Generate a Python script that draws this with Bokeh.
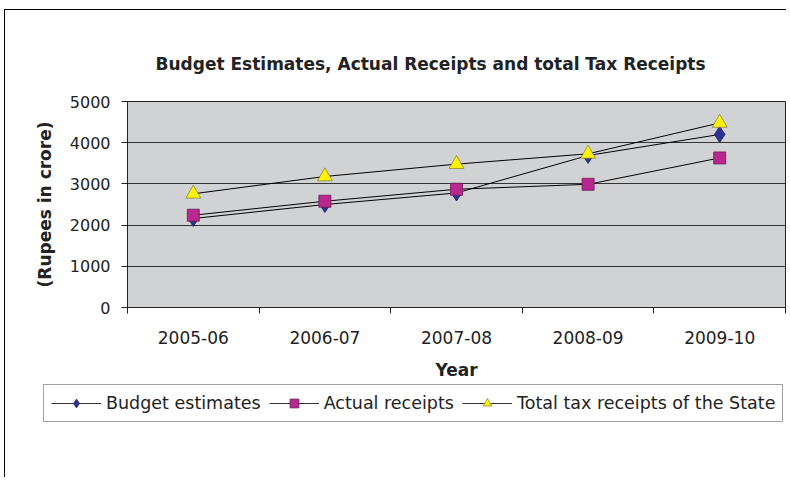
from bokeh.plotting import figure
from bokeh.layouts import column
from bokeh.models import FixedTicker, Legend, LegendItem, Range1d
from bokeh.embed import file_html
from bokeh.resources import INLINE

years = ["2005-06", "2006-07", "2007-08", "2008-09", "2009-10"]
budget_estimates = [2160, 2500, 2780, 3690, 4200]
actual_receipts = [2240, 2580, 2870, 2990, 3630]
total_tax_receipts = [2760, 3180, 3480, 3730, 4480]
y_ticks = [0, 1000, 2000, 3000, 4000, 5000]
series_names = ["Budget estimates", "Actual receipts", "Total tax receipts of the State"]

FONT = "DejaVu Sans"
xs = [i + 0.5 for i in range(len(years))]

STYLES = [
    dict(marker="diamond", size=16, fill_color="#2E3192", line_color="#1C1F6A", line_width=0.8),
    dict(marker="square", size=12, fill_color="#B8288E", line_color="#6E1A55", line_width=0.8),
    dict(marker="triangle", size=15, fill_color="#FFF200", line_color="#6B6A20", line_width=0.6),
]
SERIES = [budget_estimates, actual_receipts, total_tax_receipts]

p = figure(width=781, height=372, output_backend="svg", toolbar_location=None,
           x_range=Range1d(0, len(years)), y_range=Range1d(0, 5000),
           min_border_left=122, min_border_right=1, min_border_top=91,
           min_border_bottom=75)
p.frame_align = False

p.title.text = "Budget Estimates, Actual Receipts and total Tax Receipts"
p.title.text_font = FONT
p.title.text_font_size = "17px"
p.title.text_font_style = "bold"
p.title.text_color = "#222222"
p.title.align = "left"
p.title.offset = 28
p.title.standoff = 56

p.border_fill_alpha = 0
p.background_fill_color = "#D1D2D4"
p.outline_line_color = "#222222"
p.outline_line_width = 1

p.xgrid.visible = False
p.ygrid.grid_line_color = "#333333"
p.ygrid.grid_line_width = 1
p.ygrid.ticker = FixedTicker(ticks=y_ticks)

xa = p.xaxis[0]
xa.ticker = FixedTicker(ticks=xs, minor_ticks=list(range(len(years) + 1)))
xa.major_label_overrides = {x: y for x, y in zip(xs, years)}
xa.major_tick_out = 0
xa.major_tick_in = 0
xa.minor_tick_out = 6
xa.minor_tick_in = 0
xa.minor_tick_line_color = "#222222"
xa.axis_line_color = "#222222"
xa.major_label_text_font = FONT
xa.major_label_text_font_size = "17px"
xa.major_label_text_color = "#222222"
xa.major_label_standoff = 17
xa.axis_label = "Year"
xa.axis_label_text_font = FONT
xa.axis_label_text_font_size = "17px"
xa.axis_label_text_font_style = "bold"
xa.axis_label_text_color = "#222222"
xa.axis_label_standoff = 13

ya = p.yaxis[0]
ya.ticker = FixedTicker(ticks=y_ticks)
ya.minor_tick_line_color = None
ya.major_tick_out = 6
ya.major_tick_in = 0
ya.major_tick_line_color = "#222222"
ya.axis_line_color = "#222222"
ya.major_label_text_font = FONT
ya.major_label_text_font_size = "16px"
ya.major_label_text_color = "#222222"
ya.major_label_standoff = 11
ya.axis_label = "(Rupees in crore)"
ya.axis_label_text_font = FONT
ya.axis_label_text_font_size = "17px"
ya.axis_label_text_font_style = "bold"
ya.axis_label_text_color = "#222222"
ya.axis_label_standoff = 12

for ys, st in zip(SERIES, STYLES):
    p.line(xs, ys, line_color="black", line_width=1)
    p.scatter(xs, ys, **st)

# Legend figure below the chart: same series drawn out of view, only its legend shows
p2 = figure(width=781, height=95, output_backend="svg", toolbar_location=None,
            x_range=Range1d(0, len(years)), y_range=Range1d(-2, -1),
            x_axis_type=None, y_axis_type=None,
            min_border_left=0, min_border_right=0, min_border_top=0, min_border_bottom=0)
p2.frame_align = False
p2.grid.visible = False
p2.outline_line_color = None
p2.border_fill_alpha = 0
p2.background_fill_alpha = 0

items = []
for name, ys, st in zip(series_names, SERIES, STYLES):
    lr = p2.line(xs, ys, line_color="#333333", line_width=1.2)
    mr = p2.scatter(xs, ys, **st)
    items.append(LegendItem(label=name, renderers=[lr, mr]))

legend = Legend(items=items, orientation="horizontal", location=(38, 55))
legend.label_text_font = FONT
legend.label_text_font_size = "17.5px"
legend.label_text_color = "#222222"
legend.glyph_width = 50
legend.glyph_height = 22
legend.label_standoff = 5
legend.spacing = 8
legend.padding = 7
legend.margin = 0
legend.border_line_color = "#444444"
legend.border_line_width = 1
legend.background_fill_color = "white"
legend.background_fill_alpha = 1
p2.add_layout(legend, "center")

layout = column(p, p2, spacing=0,
                styles={"border-left": "1px solid black", "border-top": "1px solid black",
                        "margin-left": "4px", "margin-top": "9px"})

open("out.html", "w").write(file_html(layout, INLINE))
